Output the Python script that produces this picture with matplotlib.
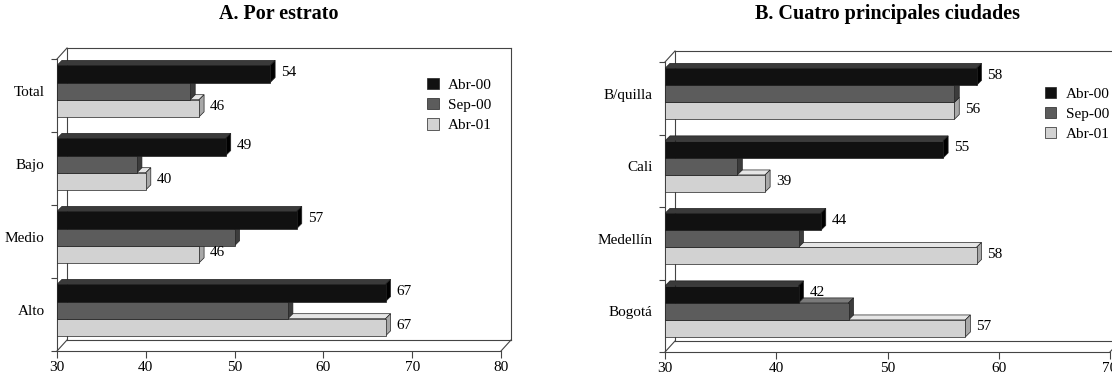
import matplotlib.pyplot as plt
import numpy as np
from matplotlib.patches import Polygon, Patch
from matplotlib.lines import Line2D

plt.rcParams["font.family"] = ["Liberation Serif", "DejaVu Serif"]
plt.rcParams["font.size"] = 11

# datos
series = ["Abr-00", "Sep-00", "Abr-01"]
estratos = ["Total", "Bajo", "Medio", "Alto"]
estrato_abr00 = [54, 49, 57, 67]
estrato_sep00 = [45, 39, 50, 56]
estrato_abr01 = [46, 40, 46, 67]

ciudades = ["B/quilla", "Cali", "Medellín", "Bogotá"]
ciudad_abr00 = [58, 55, 44, 42]
ciudad_sep00 = [56, 36.5, 42, 46.5]
ciudad_abr01 = [56, 39, 58, 57]

colores = ["#111111", "#5c5c5c", "#d2d2d2"]
tapas = ["#3a3a3a", "#7a7a7a", "#e6e6e6"]
lados = ["#000000", "#3c3c3c", "#a8a8a8"]
etiquetar = [True, False, True]

W, H = 1112, 377
fig = plt.figure(figsize=(W / 100, H / 100), dpi=100)


def panel(rect_px, titulo, cats, valores, xmax, px_unit, legend_xy):
    x0, y0, x1, y1 = rect_px
    ax = fig.add_axes([x0 / W, 1 - y1 / H, (x1 - x0) / W, (y1 - y0) / H])
    ax.set_xlim(30, xmax)
    ax.set_ylim(3.5, -0.5)
    for s in ax.spines.values():
        s.set_visible(False)

    h = 0.235
    ddx = 5 / px_unit
    ddy = 5 / 73
    centros = np.arange(4) - 0.06
    for k in [2, 1, 0]:
        for i, v in enumerate(valores[k]):
            c = centros[i] + (k - 1) * h
            top, bot = c - h / 2, c + h / 2
            ax.barh(c, v - 30, left=30, height=h, color=colores[k],
                    edgecolor="#222222", linewidth=0.5, zorder=3 + (2 - k))
            ax.add_patch(Polygon([(30, top), (v, top), (v + ddx, top - ddy),
                                  (30 + ddx, top - ddy)], closed=True,
                                 facecolor=tapas[k], edgecolor="#222222",
                                 linewidth=0.5, zorder=2.9 + (2 - k)))
            ax.add_patch(Polygon([(v, top), (v, bot), (v + ddx, bot - ddy),
                                  (v + ddx, top - ddy)], closed=True,
                                 facecolor=lados[k], edgecolor="#222222",
                                 linewidth=0.5, zorder=2.9 + (2 - k)))
            if etiquetar[k]:
                ax.text(v + ddx + 6 / px_unit, c - 0.02, f"{v:g}",
                        va="center", ha="left", fontsize=11, zorder=6)

    # caja 3D
    dxf = 10 / (x1 - x0)
    dyf = 11 / (y1 - y0)
    lk = dict(color="#444444", lw=0.8, transform=ax.transAxes, clip_on=False, zorder=1)
    ax.add_line(Line2D([0, 0], [0, 1], **lk))
    ax.add_line(Line2D([0, 1], [0, 0], **lk))
    ax.add_line(Line2D([dxf, dxf], [dyf, 1 + dyf], **lk))
    ax.add_line(Line2D([dxf, 1 + dxf], [1 + dyf, 1 + dyf], **lk))
    ax.add_line(Line2D([1 + dxf, 1 + dxf], [dyf, 1 + dyf], **lk))
    ax.add_line(Line2D([dxf, 1 + dxf], [dyf, dyf], **lk))
    ax.add_line(Line2D([0, dxf], [0, dyf], **lk))
    ax.add_line(Line2D([1, 1 + dxf], [0, dyf], **lk))
    ax.add_line(Line2D([0, dxf], [1, 1 + dyf], **lk))

    ax.set_xticks(np.arange(30, xmax + 1, 10))
    ax.tick_params(axis="x", direction="out", length=5, width=0.8,
                   color="#444444", pad=2, labelsize=11)
    ax.set_yticks(centros)
    ax.set_yticklabels(cats)
    ax.set_yticks(np.arange(-0.5, 4, 1), minor=True)
    ax.tick_params(axis="y", which="major", length=0, pad=9, labelsize=11)
    ax.tick_params(axis="y", which="minor", direction="out", length=4,
                   width=0.8, color="#444444")

    handles = [Patch(facecolor=colores[k], edgecolor="#222222", linewidth=0.5,
                     label=series[k]) for k in range(3)]
    ax.legend(handles=handles, loc="upper left", bbox_to_anchor=legend_xy,
              frameon=False, handlelength=0.75, handleheight=0.75,
              handletextpad=0.6, labelspacing=0.4, fontsize=11,
              borderaxespad=0)
    fig.text(((x0 + x1) / 2) / W, 1 - 14 / H, titulo, ha="center",
             va="center", fontsize=14.5, fontweight="bold")
    return ax


panel((57, 59, 501, 351), "A. Por estrato", estratos,
      [estrato_abr00, estrato_sep00, estrato_abr01], 80, 8.88, (0.82, 0.955))
panel((665, 62, 1110, 352), "B. Cuatro principales ciudades", ciudades,
      [ciudad_abr00, ciudad_sep00, ciudad_abr01], 70, 11.12, (0.84, 0.935))

fig.savefig("out.png", dpi=100)
